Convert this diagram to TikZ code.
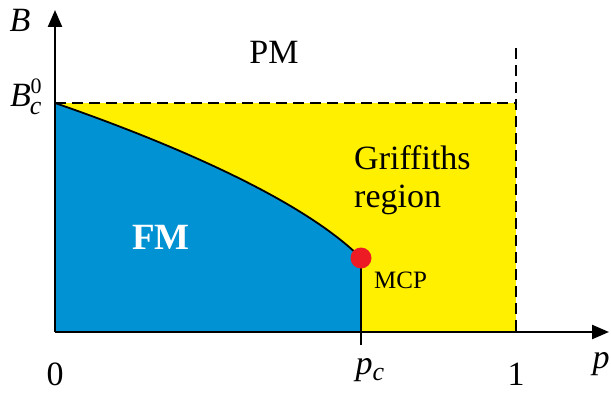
\documentclass[tikz,border=0pt]{standalone}
\usepackage{fontspec}
\setmainfont{Liberation Serif}
\usetikzlibrary{arrows.meta}
\definecolor{fmblue}{RGB}{0,146,211}
\definecolor{gyellow}{RGB}{255,240,0}
\definecolor{mcpred}{RGB}{237,28,36}
\begin{document}
\begin{tikzpicture}[x=1pt,y=-1pt,
  axis/.style={line width=2.4pt,-{Triangle[length=17pt,width=14pt]}},
  dashline/.style={line width=1.8pt,dash pattern=on 11pt off 6pt},
  big/.style={font=\fontsize{34}{38}\selectfont},
  lbl/.style={inner sep=0pt}]
\useasboundingbox (0,0) rectangle (611,396);
\coordinate (O) at (55,332);
\coordinate (Btop) at (55,103);
\coordinate (MCP) at (361,258);
\coordinate (Pc) at (361,332);
\coordinate (PcTick) at (361,345);
\coordinate (One) at (516,332);
\coordinate (OneTop) at (516,103);
\coordinate (DashTop) at (516,48);
\coordinate (Yend) at (55,10);
\coordinate (Xend) at (609,332);
% yellow region
\fill[gyellow] (O) rectangle (OneTop);
% blue region
\fill[fmblue] (Btop) .. controls (165,141) and (301,198) .. (MCP) -- (Pc) -- (O) -- cycle;
\draw[line width=1.8pt] (Btop) .. controls (165,141) and (301,198) .. (MCP);
\draw[line width=1.8pt] (MCP) -- (PcTick);
% dashed boundaries
\draw[dashline] (Btop) -- (OneTop);
\draw[dashline] (DashTop) -- (One);
% axes
\draw[axis] (O) -- (Xend);
\draw[axis] (O) -- (Yend);
% MCP dot
\fill[mcpred] (MCP) circle (10.5pt);
% labels
\node[lbl,big] (Blbl) at (20,20) {\textit{B}};
\node[lbl,big,anchor=west] (Bc) at (10,97) {\textit{B}\hspace{-1pt}\raisebox{-8pt}{\fontsize{26}{28}\selectfont\textit{c}}\hspace{-11pt}\raisebox{13pt}{\fontsize{22}{24}\selectfont 0}};
\node[lbl,big] (PM) at (274,52) {PM};
\node[lbl,big,align=left,anchor=west] (Grf) at (354,180) {Griffiths\\region};
\node[lbl,font=\fontsize{37}{40}\selectfont\bfseries,text=white] (FM) at (161,237) {FM};
\node[lbl,font=\fontsize{25}{28}\selectfont,anchor=west] (MCPl) at (374,280) {MCP};
\node[lbl,big] (zero) at (55,374) {0};
\node[lbl,big] (pc) at (370,370) {\textit{p}\raisebox{-6pt}{\fontsize{26}{28}\selectfont\textit{c}}};
\node[lbl,big] (one) at (516,374) {1};
\node[lbl,big] (plbl) at (601,364) {\textit{p}};
\end{tikzpicture}
\end{document}
